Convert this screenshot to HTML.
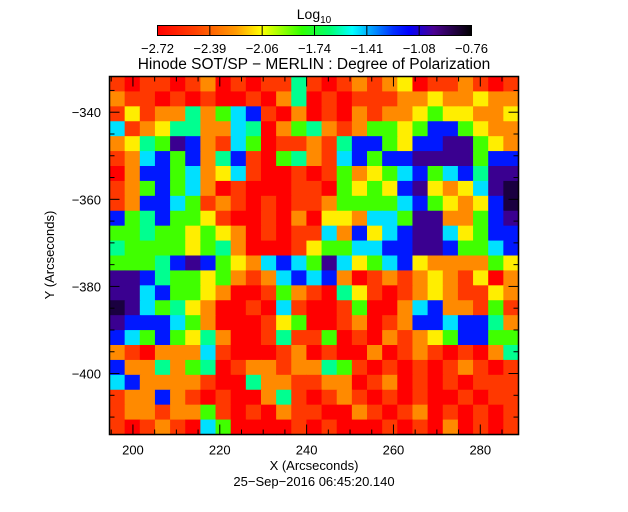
<!DOCTYPE html>
<html><head><meta charset="utf-8">
<style>
html,body{margin:0;padding:0;background:#fff;}
svg{display:block;font-family:"Liberation Sans",sans-serif;}
text{fill:#000;}
</style></head>
<body>
<svg id="chart" width="628" height="512" viewBox="0 0 628 512" xmlns="http://www.w3.org/2000/svg">
  <rect width="628" height="512" fill="#fff"/>
  <g id="cb"></g>
  <text x="314" y="19" text-anchor="middle" font-size="14">Log<tspan font-size="10" dy="4">10</tspan></text>
  <g id="cbticks"></g>
  <text x="314" y="69" text-anchor="middle" font-size="15.5">Hinode SOT/SP − MERLIN : Degree of Polarization</text>
  <g id="heat"></g>
  <rect x="109.5" y="76.5" width="409" height="358" fill="none" stroke="#000" stroke-width="1.5"/>
  <g id="axes"></g>
  <text x="314" y="470" text-anchor="middle" font-size="13">X (Arcseconds)</text>
  <text x="314" y="486" text-anchor="middle" font-size="13">25−Sep−2016 06:45:20.140</text>
  <text x="0" y="0" transform="translate(54,255) rotate(-90)" text-anchor="middle" font-size="13">Y (Arcseconds)</text>
</svg>
<script>
const xTicks = [200, 220, 240, 260, 280];
const yTicks = [-340, -360, -380, -400];
const cbLabels = ["−2.72", "−2.39", "−2.06", "−1.74", "−1.41", "−1.08", "−0.76"];
const levelColors = ["#ff0000","#ff3800","#ff8a00","#ffee00","#40ff00","#00ff90","#00e0ff","#0018ff","#3a0090","#1a0040"];
const gridRows = [
"101101201011510121230112101",
"211010100102501011122322322",
"131225246710201021223433223",
"612355226502452124434774322",
"235487216401121577437788432",
"126747257104521674778888477",
"027746236100101423467467588",
"124746201000110434378323689",
"127764121010112444467432379",
"745744310010203326648822478",
"445443432010116273678863477",
"544443452000134466778874467",
"444578743267648634673222243",
"887544342126767201212321302",
"886744320014210531012321132",
"986453200106100140026722141",
"877764200013400120127767752",
"764743520015114010212347744",
"210222610001201002012101025",
"722524501221225410101012101",
"672222100522112201201010111",
"122721010025101210101001011",
"122122410102110021012010101",
"101210640000101000101020101"
];
const NS = "http://www.w3.org/2000/svg";
const L = 109.5, R = 518.5, T = 76.5, B = 434.5;
const xMin = 194.6, xMax = 288.8, yMin = -414.0, yMax = -331.8;
function xs(v){ return L + (v - xMin) / (xMax - xMin) * (R - L); }
function ys(v){ return B - (v - yMin) / (yMax - yMin) * (B - T); }
function mk(tag, attrs, parent){ const e = document.createElementNS(NS, tag); for (const k in attrs) e.setAttribute(k, attrs[k]); parent.appendChild(e); return e; }

// heatmap
const heat = document.getElementById('heat');
const nr = gridRows.length, nc = gridRows[0].length;
const cw = (R - L) / nc, ch = (B - T) / nr;
for (let r = 0; r < nr; r++) {
  for (let c = 0; c < nc; c++) {
    const lv = +gridRows[r][c];
    const cell = mk('rect', {x: (L + c * cw).toFixed(2), y: (T + r * ch).toFixed(2), width: (cw + 0.6).toFixed(2), height: (ch + 0.6).toFixed(2), fill: levelColors[lv]}, heat);
    
    
  }
}

// axes ticks
const axes = document.getElementById('axes');
for (let v = 195; v <= 288; v += 5) {
  const major = v % 20 === 0;
  const len = major ? 10 : 5;
  const x = xs(v);
  mk('line', {x1: x, x2: x, y1: B, y2: B - len, stroke: '#000', 'stroke-width': 1}, axes);
  mk('line', {x1: x, x2: x, y1: T, y2: T + len, stroke: '#000', 'stroke-width': 1}, axes);
}
for (let v = -410; v <= -335; v += 5) {
  const major = v % 20 === 0;
  const len = major ? 10 : 5;
  const y = ys(v);
  mk('line', {x1: L, x2: L + len, y1: y, y2: y, stroke: '#000', 'stroke-width': 1}, axes);
  mk('line', {x1: R, x2: R - len, y1: y, y2: y, stroke: '#000', 'stroke-width': 1}, axes);
}
xTicks.forEach(v => {
  const t = mk('text', {x: xs(v), y: B + 20, 'text-anchor': 'middle', 'font-size': 13}, axes);
  t.textContent = v;
  
  
});
yTicks.forEach(v => {
  const t = mk('text', {x: 101, y: ys(v) + 5, 'text-anchor': 'end', 'font-size': 13}, axes);
  t.textContent = String(v).replace('-', '−');
  
  
});

// colorbar
const cb = document.getElementById('cb');
const defs = mk('defs', {}, cb);
const grad = mk('linearGradient', {id: 'cbg', x1: 0, x2: 1, y1: 0, y2: 0}, defs);
const stops = [[0,"#ff0000"],[0.12,"#ff4000"],[0.25,"#ff9a00"],[0.33,"#ffff00"],[0.46,"#30ff00"],[0.55,"#00ff70"],[0.62,"#00ffff"],[0.75,"#0030ff"],[0.8,"#0000ff"],[0.88,"#4a0090"],[1,"#000000"]];
stops.forEach(s => mk('stop', {offset: s[0], 'stop-color': s[1]}, grad));
const bar = mk('rect', {x: 157.5, y: 25.5, width: 314, height: 10, fill: 'url(#cbg)', stroke: '#000', 'stroke-width': 1}, cb);


const cbt = document.getElementById('cbticks');
cbLabels.forEach((s, i) => {
  const x = 157.5 + i * 314 / (cbLabels.length - 1);
  mk('line', {x1: x, x2: x, y1: 25.5, y2: 35.5, stroke: '#000', 'stroke-width': 1}, cbt);
  const t = mk('text', {x: x, y: 53, 'text-anchor': 'middle', 'font-size': 13}, cbt);
  t.textContent = s;
  
  
});
</script>
</body></html>
